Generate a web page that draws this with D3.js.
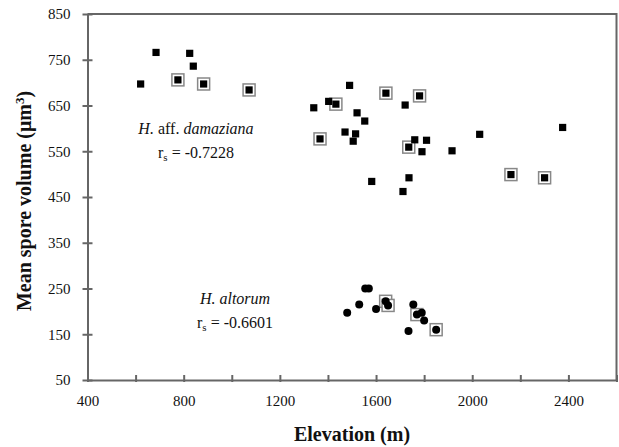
<!DOCTYPE html>
<html>
<head>
<meta charset="utf-8">
<script src="https://cdn.jsdelivr.net/npm/d3@7"></script>
<style>
  body { margin: 0; background: #fff; }
  svg text { font-family: "Liberation Serif", "Times New Roman", serif; fill: #111; }
  .axis path, .axis line { stroke: #666; stroke-width: 2; }
  .axis text { font-size: 15px; }
</style>
</head>
<body>
<div id="chart"></div>
<script>
// H. aff. damaziana
var damElev = [621, 685, 776, 825, 840, 883, 1072, 1490, 1641, 1781, 1403, 1433, 1341, 1721, 1521, 1553,
  1471, 1515, 1505, 1367, 2031, 1761, 1810, 1736, 1791, 1916, 1582, 1737, 1712, 2161, 2376, 2301];
var damVol = [697, 766, 706, 764, 736, 697, 684, 694, 677, 671, 659, 653, 645, 651, 634, 616,
  592, 588, 572, 577, 587, 575, 574, 559, 549, 551, 484, 492, 462, 499, 602, 492];
var damBoxed = [0, 0, 1, 0, 0, 1, 1, 0, 1, 1, 0, 1, 0, 0, 0, 0,
  0, 0, 0, 1, 0, 0, 0, 1, 0, 0, 0, 0, 0, 1, 0, 1];

// H. altorum
var altElev = [1480, 1530, 1555, 1570, 1600, 1640, 1650, 1735, 1755, 1770, 1790, 1800, 1850];
var altVol = [197, 215, 250, 250, 205, 222, 213, 157, 215, 193, 197, 180, 160];
var altBoxed = [0, 0, 0, 0, 0, 1, 1, 0, 0, 1, 0, 0, 1];

var xTicks = [400, 800, 1200, 1600, 2000, 2400];
var xMinorTicks = d3.range(400, 2601, 200);
var yTicks = [50, 150, 250, 350, 450, 550, 650, 750, 850];

var width = 619;
var height = 447;

var svg = d3.select('#chart')
  .append('svg')
  .attr('width', width)
  .attr('height', height);

var x = d3.scaleLinear()
  .domain([400, 2600])
  .range([87.5, 616.5]);

var y = d3.scaleLinear()
  .domain([50, 850])
  .range([380, 14]);

// frame (top + right)
svg.append('path')
  .attr('d', 'M' + x(400) + ',' + y(850) + 'H' + x(2600) + 'V' + y(50))
  .attr('fill', 'none')
  .attr('stroke', '#666')
  .attr('stroke-width', 2);

// x axis: minor ticks then labelled ones
svg.append('g')
  .attr('class', 'axis')
  .attr('transform', 'translate(0,' + y(50) + ')')
  .call(d3.axisBottom(x).tickValues(xMinorTicks).tickSizeInner(-5).tickSizeOuter(0).tickFormat(''))
  .selectAll('line').attr('y2', -5).attr('y1', 2);

var xg = svg.append('g')
  .attr('class', 'axis')
  .attr('transform', 'translate(0,' + y(50) + ')')
  .call(d3.axisBottom(x).tickValues(xTicks).tickSize(0).tickPadding(15).tickFormat(d3.format('d')));
xg.select('.domain').remove();

var yg = svg.append('g')
  .attr('class', 'axis')
  .attr('transform', 'translate(' + x(400) + ',0)')
  .call(d3.axisLeft(y).tickValues(yTicks).tickSizeInner(5).tickSizeOuter(0).tickPadding(12));
yg.selectAll('.tick line').attr('x2', 5).attr('x1', -5);

// axis titles
svg.append('text')
  .attr('x', (x(400) + x(2600)) / 2)
  .attr('y', 441)
  .attr('text-anchor', 'middle')
  .style('font-size', '20px')
  .style('font-weight', 'bold')
  .text('Elevation (m)');

var yt = svg.append('text')
  .attr('transform', 'translate(31,' + ((y(50) + y(850)) / 2 + 4) + ') rotate(-90)')
  .attr('text-anchor', 'middle')
  .style('font-size', '20px')
  .style('font-weight', 'bold');
yt.append('tspan').text('Mean spore volume (\u03bcm');
yt.append('tspan').attr('dy', -7).style('font-size', '13px').text('3');
yt.append('tspan').attr('dy', 7).text(')');

// boxes round the marked sites
function boxes(elev, vol, flags) {
  svg.append('g').selectAll('rect')
    .data(elev.map(function(d, i) { return {e: d, v: vol[i], b: flags[i]}; })
      .filter(function(d) { return d.b; }))
    .enter().append('rect')
    .attr('x', function(d) { return x(d.e) - 6; })
    .attr('y', function(d) { return y(d.v) - 6; })
    .attr('width', 12)
    .attr('height', 12)
    .attr('fill', '#fff')
    .attr('stroke', '#888')
    .attr('stroke-width', 1.5);
}

boxes(damElev, damVol, damBoxed);
boxes(altElev, altVol, altBoxed);

svg.append('g').selectAll('rect')
  .data(damElev)
  .enter().append('rect')
  .attr('x', function(d) { return x(d) - 3.6; })
  .attr('y', function(d, i) { return y(damVol[i]) - 3.6; })
  .attr('width', 7.2)
  .attr('height', 7.2)
  .attr('fill', '#000');

svg.append('g').selectAll('circle')
  .data(altElev)
  .enter().append('circle')
  .attr('cx', function(d) { return x(d); })
  .attr('cy', function(d, i) { return y(altVol[i]); })
  .attr('r', 4)
  .attr('fill', '#000');

// annotations
function label(cx, cy, italicFirst, rest, italicLast, rs) {
  var t = svg.append('text')
    .attr('x', cx).attr('y', cy)
    .attr('text-anchor', 'middle')
    .style('font-size', '16px');
  t.append('tspan').style('font-style', 'italic').text(italicFirst);
  if (rest) t.append('tspan').text(rest);
  if (italicLast) t.append('tspan').style('font-style', 'italic').text(italicLast);

  var r = svg.append('text')
    .attr('x', cx).attr('y', cy + 24)
    .attr('text-anchor', 'middle')
    .style('font-size', '16px');
  r.append('tspan').text('r');
  r.append('tspan').attr('dy', 3).style('font-size', '11px').text('s');
  r.append('tspan').attr('dy', -3).text(' = ' + rs);
}

label(196, 134, 'H.', ' aff. ', 'damaziana', '-0.7228');
label(235, 304, 'H. altorum', null, null, '-0.6601');
</script>
</body>
</html>
